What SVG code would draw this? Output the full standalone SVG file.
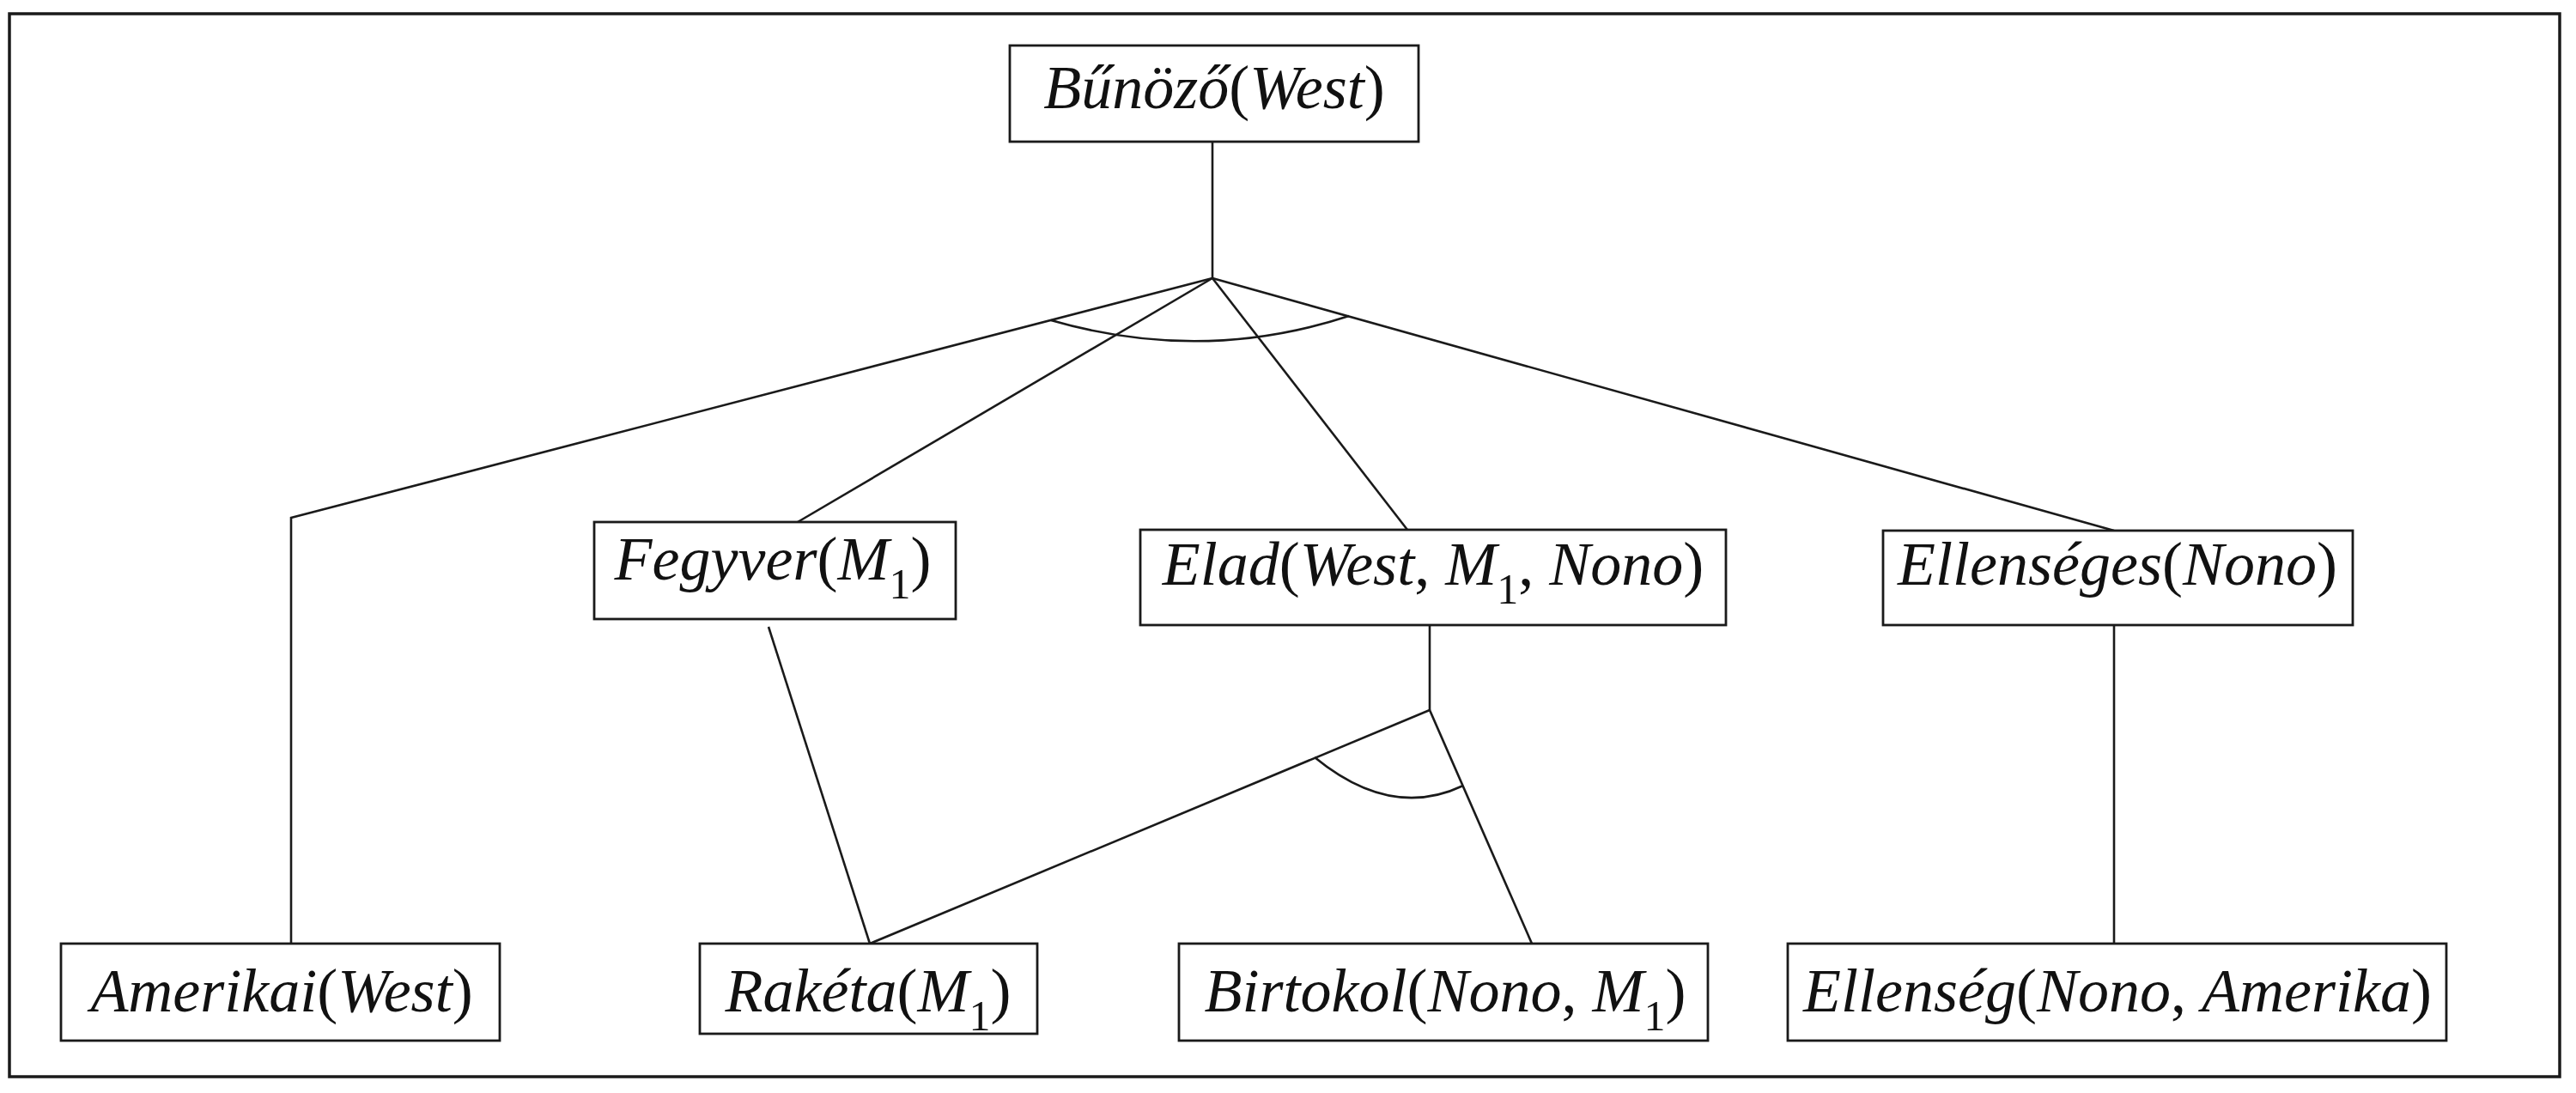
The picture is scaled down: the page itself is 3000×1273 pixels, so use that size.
<svg xmlns="http://www.w3.org/2000/svg" width="3000" height="1273" viewBox="0 0 3000 1273">
<style>
  .frame { fill: none; stroke: #1a1a1a; stroke-width: 3.5; }
  .box { fill: #ffffff; stroke: #1a1a1a; stroke-width: 2.8; }
  .edge { fill: none; stroke: #1a1a1a; stroke-width: 2.6; }
  .lbl { font-family: "Liberation Serif", "DejaVu Serif", serif; font-size: 72px; font-style: italic; fill: #111111; text-anchor: middle; }
  .up { font-style: normal; }
  .sub { font-style: normal; font-size: 50px; }
</style>
<rect width="3000" height="1273" fill="#ffffff"/>
<rect class="frame" x="11" y="16" width="2970" height="1238"/>

<g id="connectors">
  <path class="edge" d="M1412,165 V324"/>
  <path class="edge" d="M1412,324 L339,603 V1099"/>
  <path class="edge" d="M1412,324 L929,608"/>
  <path class="edge" d="M1412,324 L1639,617"/>
  <path class="edge" d="M1412,324 L2462,618"/>
  <path class="edge" d="M1224,373 Q1400,424 1571,368"/>
  <path class="edge" d="M895,730 L1013,1099"/>
  <path class="edge" d="M1665,728 V827"/>
  <path class="edge" d="M1665,827 L1013,1099"/>
  <path class="edge" d="M1665,827 L1784,1099"/>
  <path class="edge" d="M1531,882 Q1620,955 1704,915"/>
  <path class="edge" d="M2462,728 V1099"/>
</g>

<g id="n-bunozo">
  <rect class="box" x="1176" y="53" width="476" height="112"/>
  <text class="lbl" x="1414" y="126">Bűnöző<tspan class="up">(</tspan>West<tspan class="up">)</tspan></text>
</g>
<g id="n-fegyver">
  <rect class="box" x="692" y="608" width="421" height="113"/>
  <text class="lbl" x="900" y="675">Fegyver<tspan class="up">(</tspan>M<tspan class="sub" dy="22">1</tspan><tspan class="up" dy="-22">)</tspan></text>
</g>
<g id="n-elad">
  <rect class="box" x="1328" y="617" width="682" height="111"/>
  <text class="lbl" x="1669" y="681">Elad<tspan class="up">(</tspan>West<tspan class="up">, </tspan>M<tspan class="sub" dy="22">1</tspan><tspan class="up" dy="-22">, </tspan>Nono<tspan class="up">)</tspan></text>
</g>
<g id="n-ellenseges">
  <rect class="box" x="2193" y="618" width="547" height="110"/>
  <text class="lbl" x="2466" y="681">Ellenséges<tspan class="up">(</tspan>Nono<tspan class="up">)</tspan></text>
</g>
<g id="n-amerikai">
  <rect class="box" x="71" y="1099" width="511" height="113"/>
  <text class="lbl" x="328" y="1178">Amerikai<tspan class="up">(</tspan>West<tspan class="up">)</tspan></text>
</g>
<g id="n-raketa">
  <rect class="box" x="815" y="1099" width="393" height="105"/>
  <text class="lbl" x="1011" y="1178">Rakéta<tspan class="up">(</tspan>M<tspan class="sub" dy="22">1</tspan><tspan class="up" dy="-22">)</tspan></text>
</g>
<g id="n-birtokol">
  <rect class="box" x="1373" y="1099" width="616" height="113"/>
  <text class="lbl" x="1683" y="1178">Birtokol<tspan class="up">(</tspan>Nono<tspan class="up">, </tspan>M<tspan class="sub" dy="22">1</tspan><tspan class="up" dy="-22">)</tspan></text>
</g>
<g id="n-ellenseg">
  <rect class="box" x="2082" y="1099" width="767" height="113"/>
  <text class="lbl" x="2466" y="1178">Ellenség<tspan class="up">(</tspan>Nono<tspan class="up">, </tspan>Amerika<tspan class="up">)</tspan></text>
</g>
</svg>
